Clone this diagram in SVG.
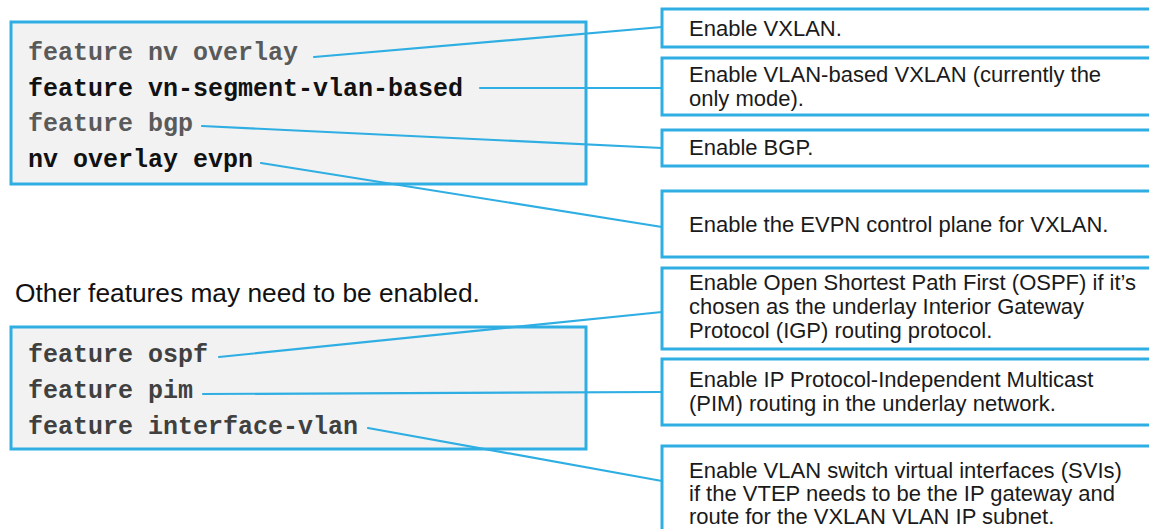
<svg xmlns="http://www.w3.org/2000/svg" width="1149" height="529" viewBox="0 0 1149 529">
  <style>
    .code-box { fill: #f2f2f2; stroke: #2eaee2; stroke-width: 3; }
    .note-box { fill: #ffffff; stroke: #2eaee2; stroke-width: 3; }
    .code { font-family: "Liberation Mono", "Courier New", monospace; font-weight: bold; font-size: 25px; }
    .gray { fill: #5a5a5a; }
    .dark { fill: #111111; }
    .mid { fill: #404040; }
    .note { font-family: "Liberation Sans", Arial, sans-serif; font-size: 22px; fill: #1a1a1a; }
    .heading { font-family: "Liberation Sans", Arial, sans-serif; font-size: 26.3px; fill: #111111; }
    .link { stroke: #2eaee2; stroke-width: 2.2; fill: none; stroke-linecap: round; }
  </style>

  <rect width="1149" height="529" fill="#ffffff"/>

  <!-- required VXLAN EVPN features -->
  <g id="code-required">
    <rect class="code-box" x="11" y="22" width="575" height="162"/>
    <text class="code gray" x="28" y="60">feature nv overlay</text>
    <text class="code dark" x="28" y="96">feature vn-segment-vlan-based</text>
    <text class="code gray" x="28" y="131">feature bgp</text>
    <text class="code dark" x="28" y="167">nv overlay evpn</text>
  </g>

  <text id="heading-optional" class="heading" x="15" y="302">Other features may need to be enabled.</text>

  <!-- optional underlay features -->
  <g id="code-optional">
    <rect class="code-box" x="11" y="327" width="575" height="122"/>
    <text class="code mid" x="28" y="362">feature ospf</text>
    <text class="code mid" x="28" y="398">feature pim</text>
    <text class="code mid" x="28" y="434">feature interface-vlan</text>
  </g>

  <!-- explanations, boxes run past the right edge -->
  <g id="note-vxlan">
    <rect class="note-box" x="662" y="9" width="520" height="38"/>
    <text class="note" x="689" y="36">Enable VXLAN.</text>
  </g>
  <g id="note-vlan-based">
    <rect class="note-box" x="662" y="58" width="520" height="57"/>
    <text class="note" x="689" y="82">Enable VLAN-based VXLAN (currently the</text>
    <text class="note" x="689" y="106">only mode).</text>
  </g>
  <g id="note-bgp">
    <rect class="note-box" x="662" y="130" width="520" height="36"/>
    <text class="note" x="689" y="155">Enable BGP.</text>
  </g>
  <g id="note-evpn">
    <rect class="note-box" x="662" y="191" width="520" height="66"/>
    <text class="note" x="689" y="232">Enable the EVPN control plane for VXLAN.</text>
  </g>
  <g id="note-ospf">
    <rect class="note-box" x="662" y="268" width="520" height="81"/>
    <text class="note" x="689" y="290">Enable Open Shortest Path First (OSPF) if it’s</text>
    <text class="note" x="689" y="314">chosen as the underlay Interior Gateway</text>
    <text class="note" x="689" y="338">Protocol (IGP) routing protocol.</text>
  </g>
  <g id="note-pim">
    <rect class="note-box" x="662" y="359" width="520" height="66"/>
    <text class="note" x="689" y="387">Enable IP Protocol-Independent Multicast</text>
    <text class="note" x="689" y="411">(PIM) routing in the underlay network.</text>
  </g>
  <g id="note-svi">
    <rect class="note-box" x="662" y="446" width="520" height="120"/>
    <text class="note" x="689" y="478">Enable VLAN switch virtual interfaces (SVIs)</text>
    <text class="note" x="689" y="501">if the VTEP needs to be the IP gateway and</text>
    <text class="note" x="689" y="524">route for the VXLAN VLAN IP subnet.</text>
  </g>

  <!-- leader lines from each command to its note -->
  <g id="connectors">
    <line class="link" x1="314" y1="57" x2="662" y2="27"/>
    <line class="link" x1="480" y1="88" x2="662" y2="88"/>
    <line class="link" x1="202" y1="126" x2="662" y2="148"/>
    <line class="link" x1="261" y1="163" x2="662" y2="227"/>
    <line class="link" x1="219" y1="357" x2="662" y2="312"/>
    <line class="link" x1="203" y1="394" x2="662" y2="392"/>
    <line class="link" x1="368" y1="428" x2="662" y2="481"/>
  </g>
</svg>
